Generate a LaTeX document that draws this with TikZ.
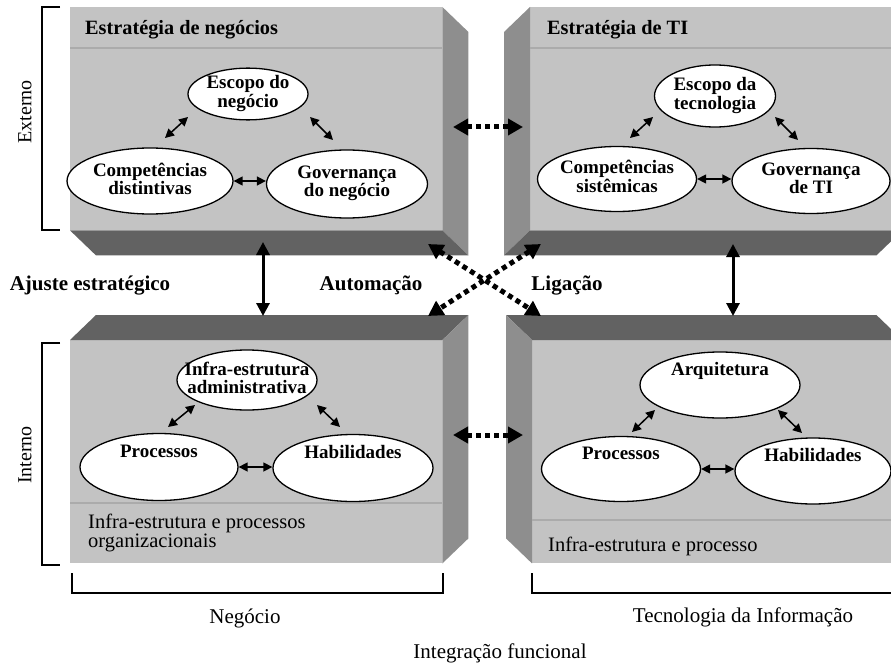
\documentclass[tikz,border=0pt]{standalone}
\usepackage{fontspec}
\setmainfont{Liberation Serif}
\usetikzlibrary{arrows.meta, positioning, shapes.geometric, calc}
\definecolor{mFront}{HTML}{C3C3C3}
\definecolor{mSide}{HTML}{8E8E8E}
\definecolor{mDark}{HTML}{626262}
\definecolor{mBand}{HTML}{ABABAB}
\newcommand{\elltext}[1]{\makebox[0pt]{\begin{tabular}{@{}c@{}}#1\end{tabular}}}

\begin{document}
\begin{tikzpicture}[x=1pt, y=-1pt,
      front/.style={draw=none, fill=mFront, anchor=north west, inner sep=0pt,
                    minimum height=223pt},
      band/.style={draw=mBand, line width=1.3pt},
      ell/.style={ellipse, draw, line width=1.3pt, fill=white, inner sep=0pt,
                  font=\fontsize{19}{17}\selectfont\bfseries},
      hdr/.style={anchor=base west, inner sep=0pt,
                  font=\fontsize{20.3}{20}\selectfont\bfseries},
      sub/.style={anchor=base west, inner sep=0pt, align=left,
                  font=\fontsize{20.5}{17}\selectfont},
      mid/.style={anchor=base, inner sep=0pt,
                  font=\fontsize{21}{20}\selectfont\bfseries},
      bot/.style={anchor=base, inner sep=0pt,
                  font=\fontsize{21}{20}\selectfont},
      brk/.style={line width=1.3pt},
      dbl/.style={{Triangle[length=9pt,width=9pt]}-{Triangle[length=9pt,width=9pt]},
                  line width=1.5pt},
      vert/.style={{Triangle[length=13pt,width=13pt]}-{Triangle[length=13pt,width=13pt]},
                   line width=3pt},
      dots/.style={{Triangle[length=15pt,width=16pt]}-{Triangle[length=15pt,width=16pt]},
                   line width=5pt, dash pattern=on 5pt off 4pt}]
    \fill[white] (0,0) rectangle (891,666);
    \clip (0,0) rectangle (891,666);

    % the four boxes
    \node[front, minimum width=372pt] (tl) at (70,7) {};
    \node[front, minimum width=372pt] (tr) at (530,7) {};
    \node[front, minimum width=372pt] (bl) at (70,340) {};
    \node[front, minimum width=370pt] (br) at (532,340) {};

    \fill[mSide] (tl.north east) -- ++(26,25) -- ($(tl.south east)+(26,25)$) -- (tl.south east) -- cycle;
    \fill[mDark] (tl.south west) -- (tl.south east) -- ++(26,25) -- ($(tl.south west)+(26,25)$) -- cycle;
    \fill[mSide] (tr.north west) -- ++(-26,25) -- ($(tr.south west)+(-26,25)$) -- (tr.south west) -- cycle;
    \fill[mDark] (tr.south west) -- (tr.south east) -- ++(-26,25) -- ($(tr.south west)+(-26,25)$) -- cycle;
    \fill[mDark] (bl.north west) -- ++(26,-25) -- ($(bl.north east)+(26,-25)$) -- (bl.north east) -- cycle;
    \fill[mSide] (bl.north east) -- ++(26,-25) -- ($(bl.south east)+(26,-25)$) -- (bl.south east) -- cycle;
    \fill[mDark] (br.north west) -- ++(-26,-25) -- ($(br.north east)+(-26,-25)$) -- (br.north east) -- cycle;
    \fill[mSide] (br.north west) -- ++(-26,-25) -- ($(br.south west)+(-26,-25)$) -- (br.south west) -- cycle;

    \draw[band] (70,48) -- (442,48);
    \draw[band] (530,48) -- (891,48);
    \draw[band] (70,503) -- (442,503);
    \draw[band] (532,520) -- (891,520);

    \node[hdr] (hTL) at (85,35) {Estratégia de negócios};
    \node[hdr] (hTR) at (547,35) {Estratégia de TI};
    \node[sub] (hBL) at (88,547) {Infra-estrutura e processos\\organizacionais};
    \node[sub] (hBR) at (548,551) {Infra-estrutura e processo};

    % ellipses
    \node[ell, minimum width=120pt, minimum height=46pt] (escN) at (248,94) {\elltext{Escopo do\\negócio}};
    \node[ell, minimum width=166pt, minimum height=66pt] (compD) at (150,181) {\elltext{Competências\\distintivas}};
    \node[ell, minimum width=161pt, minimum height=68pt] (govN) at (347,184) {\elltext{Governança\\do negócio}};

    \node[ell, minimum width=121pt, minimum height=62pt] (escT) at (715,96) {\elltext{Escopo da\\tecnologia}};
    \node[ell, minimum width=159pt, minimum height=65pt] (compS) at (617,179) {\elltext{Competências\\sistêmicas}};
    \node[ell, minimum width=158pt, minimum height=65pt] (govT) at (811,181) {\elltext{Governança\\de TI}};

    \node[ell, minimum width=140pt, minimum height=60pt] (infA) at (247,380) {\elltext{Infra-estrutura\\administrativa}};
    \node[ell, minimum width=158pt, minimum height=67pt] (procN) at (159,467) {\elltext{Processos\\[10pt]\mbox{}}};
    \node[ell, minimum width=160pt, minimum height=67pt] (habN) at (353,468) {\elltext{Habilidades\\[10pt]\mbox{}}};

    \node[ell, minimum width=160pt, minimum height=66pt] (arq) at (720,385) {\elltext{Arquitetura\\[10pt]\mbox{}}};
    \node[ell, minimum width=159pt, minimum height=65pt] (procT) at (621,469) {\elltext{Processos\\[10pt]\mbox{}}};
    \node[ell, minimum width=156pt, minimum height=66pt] (habT) at (813,471) {\elltext{Habilidades\\[10pt]\mbox{}}};

    \draw[dbl] ($(escN)+(-60,23)$) -- ($(compD)+(15,-43)$);
    \draw[dbl] ($(escN)+(62,23)$) -- ($(govN)+(-14,-44)$);
    \draw[dbl] (compD.east) -- (compD.east -| govN.west);
    \draw[dbl] ($(escT)+(-62,21)$) -- ($(compS)+(13,-41)$);
    \draw[dbl] ($(escT)+(60,21)$) -- ($(govT)+(-13,-41)$);
    \draw[dbl] (compS.east) -- (compS.east -| govT.west);
    \draw[dbl] ($(infA)+(-52,25)$) -- ($(procN)+(9,-40)$);
    \draw[dbl] ($(infA)+(70,25)$) -- ($(habN)+(-13,-41)$);
    \draw[dbl] (procN.east) -- (procN.east -| habN.west);
    \draw[dbl] ($(arq)+(-65,25)$) -- ($(procT)+(11,-37)$);
    \draw[dbl] ($(arq)+(58,25)$) -- ($(habT)+(-11,-38)$);
    \draw[dbl] (procT.east) -- (procT.east -| habT.west);

    % links between the boxes
    \coordinate (ajL1) at (263,242);
    \coordinate (ajL2) at (263,316);
    \coordinate (ajR1) at (733,244);
    \coordinate (ajR2) at (733,316);
    \coordinate (ifT1) at (453,127);
    \coordinate (ifT2) at (523,127);
    \coordinate (ifB1) at (453,435);
    \coordinate (ifB2) at (523,435);
    \coordinate (xTL) at (428,244);
    \coordinate (xTR) at (541,244);
    \coordinate (xBL) at (428,316);
    \coordinate (xBR) at (541,316);

    \draw[vert] (ajL1) -- (ajL2);
    \draw[vert] (ajR1) -- (ajR2);
    \draw[dots] (ifT1) -- (ifT2);
    \draw[dots] (ifB1) -- (ifB2);
    \draw[dots] (xTL) -- (xBR);
    \draw[dots] (xTR) -- (xBL);

    \node[mid] (ajuste) at (90,290) {Ajuste estratégico};
    \node[mid] (autom) at (371,290) {Automação};
    \node[mid] (ligac) at (567,290) {Ligação};

    % brackets
    \draw[brk] (60,7) -- (42,7) -- (42,230) -- (60,230);
    \draw[brk] (60,343) -- (42,343) -- (42,565) -- (60,565);
    \draw[brk] (72,573) -- (72,593) -- (443,593) -- (443,573);
    \draw[brk] (532,573) -- (532,593) -- (900,593);

    \node[rotate=90, font=\fontsize{20}{20}\selectfont] (extn) at (25,112) {Externo};
    \node[rotate=90, font=\fontsize{20}{20}\selectfont] (intn) at (25,455) {Interno};
    \node[bot] (negoc) at (245,623) {Negócio};
    \node[bot] (tecin) at (743,622) {Tecnologia da Informação};
    \node[bot] (integ) at (500,658) {Integração funcional};
  \end{tikzpicture}
\end{document}
